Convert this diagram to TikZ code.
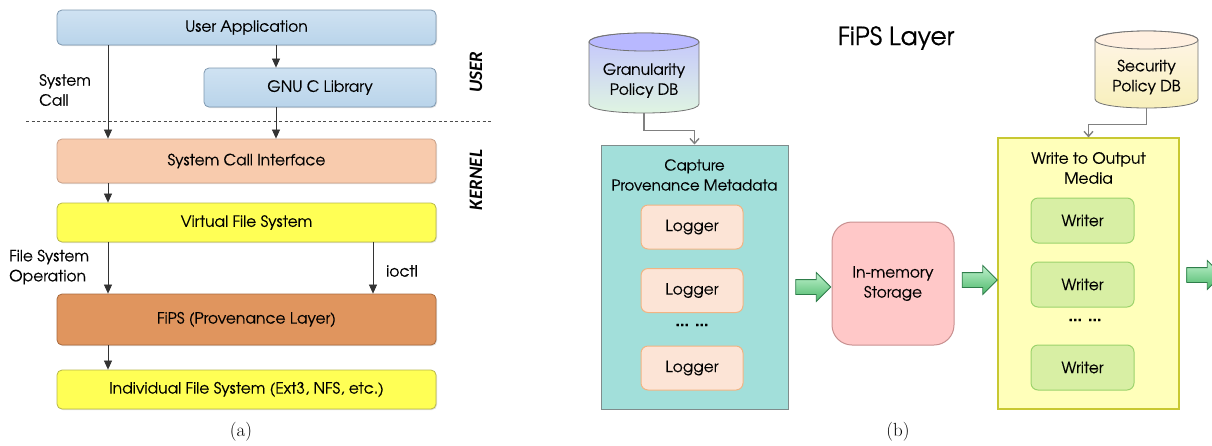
\documentclass[tikz,border=0pt]{standalone}
\usepackage{fontspec}
\setsansfont{TeX Gyre Adventor}[FakeBold=0.35]
\newfontfamily\lblfont{Carlito}
\usetikzlibrary{arrows.meta,shapes.arrows,shadows}
\definecolor{bluefill}{HTML}{B9D4EA}
\definecolor{bluetop}{HTML}{CFE2F2}
\definecolor{blueline}{HTML}{7E98B0}
\definecolor{scifill}{HTML}{F8CBAD}
\definecolor{sciline}{HTML}{C9A088}
\definecolor{vfsfill}{HTML}{FFFF55}
\definecolor{vfsline}{HTML}{B8B84A}
\definecolor{fipsfill}{HTML}{E0955E}
\definecolor{fipsline}{HTML}{A86A3E}
\definecolor{capfill}{HTML}{A2DFDA}
\definecolor{capline}{HTML}{7F8C8C}
\definecolor{logfill}{HTML}{FCE4D6}
\definecolor{logline}{HTML}{F1B483}
\definecolor{memfill}{HTML}{FFC8C8}
\definecolor{memline}{HTML}{C89090}
\definecolor{wrfill}{HTML}{FFFFBA}
\definecolor{wrline}{HTML}{C8C832}
\definecolor{wtfill}{HTML}{D8EFA4}
\definecolor{wtline}{HTML}{9CD36C}
\definecolor{arrgreen}{HTML}{4CB86A}
\definecolor{arrlight}{HTML}{C0F2CE}
\definecolor{arrdark}{HTML}{2E7D4A}
\begin{document}
\begin{tikzpicture}[x=1pt,y=-1pt,
  font=\sffamily\fontsize{15.5}{18}\selectfont,
  layer/.style={draw=#1, line width=0.8pt, rounded corners=5pt, minimum width=379pt, inner sep=0pt,
     drop shadow={opacity=0.25, shadow xshift=1pt, shadow yshift=-1pt}},
  arr/.style={-{Triangle[length=9pt,width=8pt]}, line width=0.7pt, draw=black!80},
  garr/.style={-{Straight Barb[length=5pt,width=9pt]}, line width=1.4pt, draw=black!50},
  logbox/.style={draw=logline, fill=logfill, line width=1pt, rounded corners=7pt, minimum width=102pt, minimum height=44pt, inner sep=0pt},
  wtbox/.style={draw=wtline, fill=wtfill, line width=1pt, rounded corners=7pt, minimum width=103pt, minimum height=45pt, inner sep=0pt},
  blockarrow/.style={single arrow, draw=arrdark, line width=0.8pt, top color=arrlight, bottom color=arrgreen,
     minimum height=35pt, inner xsep=0pt, inner ysep=7pt, single arrow head extend=7pt, shape border rotate=0},
  lbl/.style={inner sep=0pt, align=left},
  side/.style={font=\lblfont\bfseries\itshape\fontsize{19}{19}\selectfont, rotate=90, inner sep=0pt},
  subcap/.style={font=\rmfamily\fontsize{19}{21}\selectfont, inner sep=0pt},
  dotsty/.style={inner sep=0pt, font=\sffamily\bfseries\fontsize{16}{18}\selectfont}
]
\useasboundingbox (0,0) rectangle (1212,445);

% ---------------- (a) ----------------
\draw[dashed, dash pattern=on 3pt off 2.5pt, black!70, line width=0.6pt] (26,121) -- (493,121);
\node[layer=blueline, top color=bluetop, bottom color=bluefill, minimum height=35pt] (ua) at (246.5,27.5) {User Application};
\node[layer=blueline, top color=bluetop, bottom color=bluefill, minimum width=232pt, minimum height=39pt] (gnu) at (320,87.5) {GNU C Library};
\node[layer=sciline, fill=scifill, minimum height=44pt] (sci) at (246.5,161) {System Call Interface};
\node[layer=vfsline, fill=vfsfill, minimum height=39pt] (vfs) at (246.5,222.5) {Virtual File System};
\node[layer=fipsline, fill=fipsfill, minimum height=51pt] (fips) at (246.5,319.5) {FiPS (Provenance Layer)};
\node[layer=vfsline, fill=vfsfill, minimum height=39pt] (ifs) at (246.5,389.5) {Individual File System (Ext3, NFS, etc.)};

\coordinate (xa) at (108,0);
\coordinate (xb) at (276,0);
\coordinate (xc) at (373,0);
\draw[arr] (ua.south -| xa) -- (sci.north -| xa);
\draw[arr] (ua.south -| xb) -- (gnu.north -| xb);
\draw[arr] (gnu.south -| xb) -- (sci.north -| xb);
\draw[arr] (sci.south -| xa) -- (vfs.north -| xa);
\draw[arr] (vfs.south -| xa) -- (fips.north -| xa);
\draw[arr] (vfs.south -| xc) -- (fips.north -| xc);
\draw[arr] (fips.south -| xa) -- (ifs.north -| xa);

\node[lbl, anchor=west] (syscall) at (39,90) {System\\[2pt]Call};
\node[lbl, anchor=west] (fsop) at (9,267) {File System\\[2pt]Operation};
\node[lbl, anchor=west] (ioctl) at (386,271) {ioctl};
\node[side] (user) at (476,72) {USER};
\node[side] (kernel) at (476,180) {KERNEL};
\node[subcap] (capa) at (241,432) {(a)};

% ---------------- (b) ----------------
\node[font=\sffamily\fontsize{25}{28}\selectfont, inner sep=0pt] (title) at (896,38) {FiPS Layer};

% granularity cylinder
\shade[top color=blue!24!white, bottom color=black!28!green!12!white, draw=black!55, line width=0.8pt]
  (589,42) -- (589,104) .. controls (589,116) and (699,116) .. (699,104) -- (699,42)
  .. controls (699,30) and (589,30) .. (589,42) -- cycle;
\draw[fill=blue!28!white, draw=black!55, line width=0.8pt] (644,42) ellipse [x radius=55pt, y radius=9pt];
\node[minimum width=110pt, minimum height=81pt, inner sep=0pt] (gdb) at (644,72.5) {};
\node[align=center, inner sep=0pt] (gdbtext) at (644,80.5) {Granularity\\[2pt]Policy DB};

% security cylinder
\shade[top color=orange!8!white, bottom color=brown!40!yellow!30!white, draw=black!55, line width=0.8pt]
  (1095,40) -- (1095,99) .. controls (1095,111) and (1198,111) .. (1198,99) -- (1198,40)
  .. controls (1198,28) and (1095,28) .. (1095,40) -- cycle;
\draw[fill=orange!12!white, draw=black!55, line width=0.8pt] (1146.5,40) ellipse [x radius=51.5pt, y radius=9pt];
\node[minimum width=103pt, minimum height=77pt, inner sep=0pt] (sdb) at (1146.5,69.5) {};
\node[align=center, inner sep=0pt] (sdbtext) at (1146.5,77) {Security\\[2pt]Policy DB};

% capture box
\node[draw=capline, fill=capfill, line width=1pt, minimum width=187pt, minimum height=264pt, inner sep=0pt] (capture) at (694.5,277) {};
\node[align=center, inner sep=0pt, font=\sffamily\fontsize{15}{18}\selectfont] (captext) at (694.5,175) {Capture\\[2pt]Provenance Metadata};
\node[logbox] (log1) at (692,227) {Logger};
\node[logbox] (log2) at (692,290.5) {Logger};
\node[dotsty] (dots1) at (692,325) {... ...};
\node[logbox] (log3) at (692,368) {Logger};

% in-memory storage
\node[draw=memline, fill=memfill, line width=1pt, rounded corners=20pt, minimum width=122pt, minimum height=123pt, align=center, inner sep=0pt] (mem) at (893,283.5) {In-memory\\[2pt]Storage};

% write box
\node[draw=wrline, fill=wrfill, line width=1.2pt, minimum width=181pt, minimum height=271pt, inner sep=0pt] (write) at (1088.5,273.5) {};
\node[align=center, inner sep=0pt] (wrtext) at (1088.5,168) {Write to Output\\[2pt]Media};
\node[wtbox] (wt1) at (1082.5,220.5) {Writer};
\node[wtbox] (wt2) at (1082.5,284.5) {Writer};
\node[dotsty] (dots2) at (1085,320) {... ...};
\node[wtbox] (wt3) at (1082.5,367.5) {Writer};

% green block arrows
\node[blockarrow] (g1) at (809.5,287) {};
\node[blockarrow] (g2) at (976,280) {};
\node[blockarrow] (g3) at (1200.5,275) {};

% policy connectors
\draw[garr] (gdb.south) -- ++(0,17) -| (capture.north);
\draw[garr] (sdb.south) -- ++(0,16) -| (write.north);

\node[subcap] (capb) at (898,432) {(b)};
\end{tikzpicture}
\end{document}
